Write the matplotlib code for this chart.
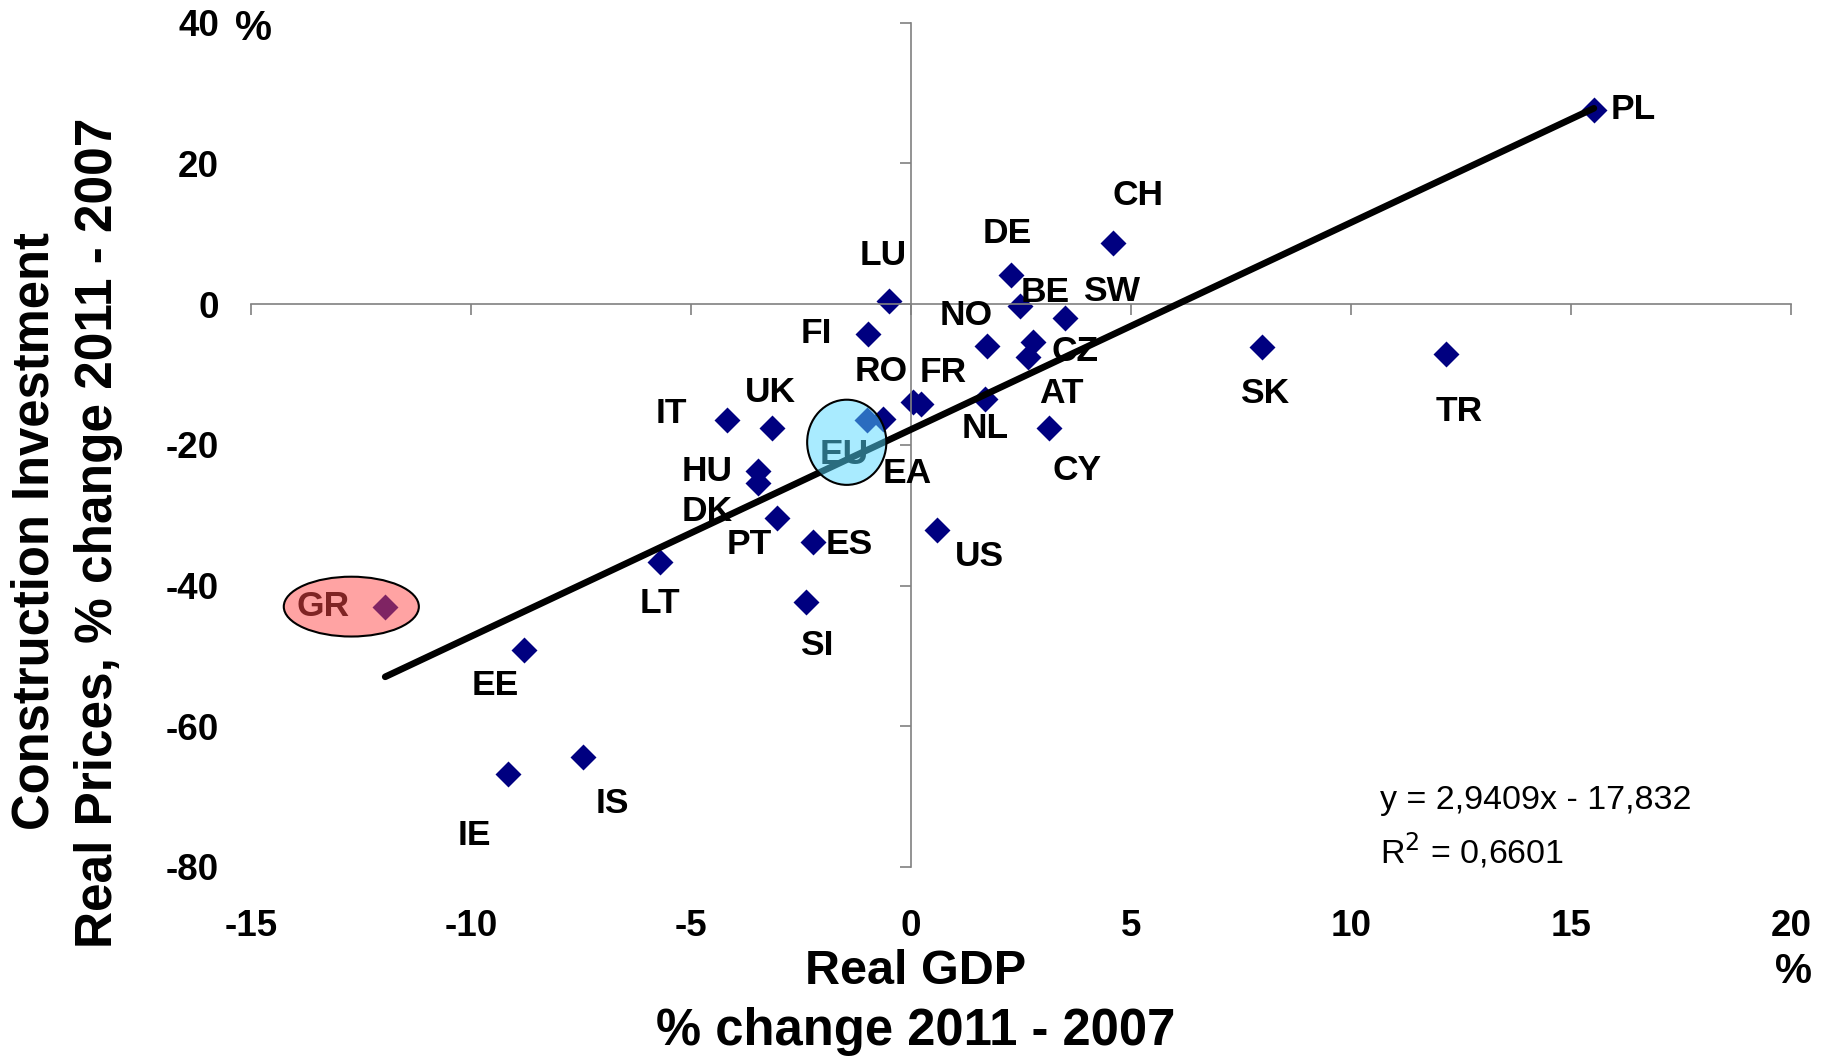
import numpy as np
import matplotlib
matplotlib.use("Agg")
from matplotlib import pyplot as plt
from matplotlib.patches import Ellipse

plt.rcParams['font.family'] = ['Liberation Sans', 'DejaVu Sans']
plt.rcParams['axes.unicode_minus'] = False

# data
countries = ['PL', 'CH', 'DE', 'BE', 'SW', 'LU', 'FI', 'NO', 'CZ', 'AT',
             'NL', 'CY', 'FR', 'RO', 'EA', 'EU', 'UK', 'IT', 'HU', 'DK',
             'PT', 'ES', 'US', 'LT', 'GR', 'SI', 'EE', 'IS', 'IE', 'SK', 'TR']
gdp_change = [15.52, 4.60, 2.27, 2.48, 3.51, -0.50, -0.98, 1.73, 2.77, 2.65,
              1.68, 3.14, 0.22, 0.05, -0.63, -1.01, -3.15, -4.19, -3.48, -3.48,
              -3.05, -2.23, 0.58, -5.70, -11.95, -2.39, -8.80, -7.45, -9.17, 7.97, 12.15]
constr_change = [27.6, 8.6, 4.1, -0.3, -2.0, 0.4, -4.3, -6.0, -5.35, -7.5,
                 -13.5, -17.6, -14.2, -13.9, -16.4, -16.5, -17.6, -16.5, -23.8, -25.5,
                 -30.4, -33.8, -32.1, -36.6, -43.0, -42.4, -49.1, -64.4, -66.8, -6.06, -7.1]
slope = 2.9409
intercept = -17.832
r_squared = 0.6601

x_ticks = [-15, -10, -5, 0, 5, 10, 15, 20]
y_ticks = [-80, -60, -40, -20, 0, 20, 40]

# label offsets in pixels (label centre relative to its point)
label_offsets = {
    'PL': (39, 0), 'CH': (25, 48), 'DE': (-4, 42), 'BE': (25, 14), 'SW': (46, 27),
    'LU': (-6, 46), 'FI': (-52, 1), 'NO': (-21, 31), 'CZ': (42, -10), 'AT': (34, -37),
    'NL': (0, -29), 'CY': (28, -43), 'FR': (23, 31), 'RO': (-32, 30), 'EA': (24, -54),
    'EU': (-22, -34), 'UK': (-2, 35), 'IT': (-55, 7), 'HU': (-51, 0), 'DK': (-51, -28),
    'PT': (-28, -27), 'ES': (36, -3), 'US': (43, -27), 'LT': (0, -42), 'GR': (-62, 0),
    'SI': (11, -43), 'EE': (-29, -36), 'IS': (29, -46), 'IE': (-33, -61), 'SK': (3, -47),
    'TR': (14, -58),
}

W, H = 1829, 1063
fig = plt.figure(figsize=(W / 100, H / 100), dpi=100)
ax = fig.add_axes([251 / W, 1 - 867 / H, 1540 / W, 844.5 / H])
ax.set_xlim(-15, 20)
ax.set_ylim(-80, 40)

# axis lines crossing at zero, ticks on them, labels at the edges
for side in ['top', 'right']:
    ax.spines[side].set_visible(False)
ax.spines['left'].set_position(('data', 0))
ax.spines['bottom'].set_position(('data', 0))
for side in ['left', 'bottom']:
    ax.spines[side].set_color('#808080')
    ax.spines[side].set_linewidth(1.2)
ax.set_xticks(x_ticks)
ax.set_yticks(y_ticks)
ax.tick_params(labelleft=False, labelbottom=False, direction='out',
               length=8, width=1.2, color='#808080')

secy = ax.secondary_yaxis('left')
secy.set_yticks(y_ticks)
secy.spines['left'].set_visible(False)
secy.tick_params(length=0, pad=23, labelsize=26.5)
for lab in secy.get_yticklabels():
    lab.set_fontweight('bold')

secx = ax.secondary_xaxis('bottom')
secx.set_xticks(x_ticks)
secx.spines['bottom'].set_visible(False)
secx.tick_params(length=0, pad=30, labelsize=26.5)
for lab in secx.get_xticklabels():
    lab.set_fontweight('bold')

x = np.array(gdp_change)
y = np.array(constr_change)

# trend line
xs = np.array([x.min(), x.max()])
ax.plot(xs, slope * xs + intercept, color='black', lw=4.8, solid_capstyle='round', zorder=3)

ax.scatter(x, y, marker='D', s=175, color='#000080', linewidths=0, zorder=2)

for name, xi, yi in zip(countries, x, y):
    dx, dy = label_offsets[name]
    ax.annotate(name, (xi, yi), xytext=(dx, dy), textcoords='offset pixels',
                ha='center', va='center', fontsize=25.5, fontweight='bold', zorder=4)

# highlight shapes on top, semi transparent
gi = countries.index('GR')
ax.add_patch(Ellipse((x[gi] - 0.77, y[gi]), 3.07, 8.5, facecolor='#ff4848', alpha=0.5,
                     edgecolor='none', zorder=5))
ax.add_patch(Ellipse((x[gi] - 0.77, y[gi]), 3.07, 8.5, facecolor='none',
                     edgecolor='black', lw=1.5, zorder=6))
ei = countries.index('EU')
ax.add_patch(Ellipse((x[ei] - 0.45, y[ei] - 3.15), 1.8, 12.1, facecolor='#55d8ff', alpha=0.5,
                     edgecolor='none', zorder=5))
ax.add_patch(Ellipse((x[ei] - 0.45, y[ei] - 3.15), 1.8, 12.1, facecolor='none',
                     edgecolor='black', lw=1.5, zorder=6))

# regression text
eq = 'y = %sx - %s' % (str(slope).replace('.', ','), str(-intercept).replace('.', ','))
fig.text(1380 / W, 1 - 800 / H, eq, fontsize=24.5, ha='left', va='center')
fig.text(1380 / W, 1 - 850 / H, 'R$^2$ = ' + str(r_squared).replace('.', ','),
         fontsize=24.5, ha='left', va='center')

# units and axis titles
fig.text(253 / W, 1 - 29 / H, '%', fontsize=30, fontweight='bold', ha='center', va='center')
fig.text(1793 / W, 1 - 972 / H, '%', fontsize=30, fontweight='bold', ha='center', va='center')
fig.text(916 / W, 1 - 972 / H, 'Real GDP', fontsize=35, fontweight='bold', ha='center', va='center')
fig.text(916 / W, 1 - 1032 / H, '% change 2011 - 2007', fontsize=36.5, fontweight='bold',
         ha='center', va='center')
fig.text(35 / W, 1 - 531 / H, 'Construction Investment', fontsize=36.5, fontweight='bold',
         rotation=90, ha='center', va='center')
fig.text(99 / W, 1 - 533 / H, 'Real Prices, % change 2011 - 2007', fontsize=37, fontweight='bold',
         rotation=90, ha='center', va='center')

fig.savefig('out.png', dpi=100)
